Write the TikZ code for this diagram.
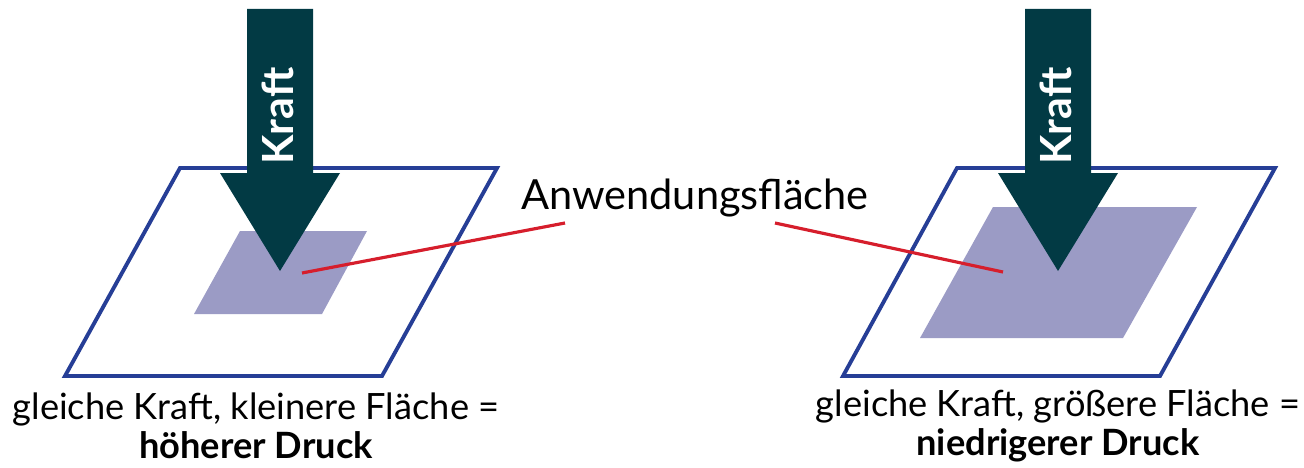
\documentclass[tikz,border=0pt]{standalone}
\usepackage{fontspec}
\setmainfont{Lato}
\usetikzlibrary{calc,positioning}
\definecolor{plateBlue}{RGB}{38,62,150}
\definecolor{areaLilac}{RGB}{155,155,197}
\definecolor{forceTeal}{RGB}{2,58,68}
\definecolor{leaderRed}{RGB}{214,30,44}

\begin{document}
\begin{tikzpicture}[x=0.01cm, y=-0.01cm, every node/.style={font=\fontsize{11.8}{14}\selectfont}]
  \useasboundingbox (0,0) rectangle (1304,467);
  % plates and contact areas
  \coordinate (A1) at (180,168);
  \coordinate (A2) at (497,168);
  \coordinate (A3) at (382,376);
  \coordinate (A4) at (65,376);
  \coordinate (B1) at (957,168);
  \coordinate (B2) at (1275,168);
  \coordinate (B3) at (1160,376);
  \coordinate (B4) at (843,376);
  \fill[areaLilac] (240,231) -- (367,231) -- (322,314) -- (194,314) -- cycle;
  \fill[areaLilac] (993,207) -- (1197,207) -- (1123,338) -- (920,338) -- cycle;
  \draw[plateBlue, line width=1.1pt] (A1)--(A2)--(A3)--(A4)--cycle;
  \draw[plateBlue, line width=1.1pt] (B1)--(B2)--(B3)--(B4)--cycle;
  % force arrows
  \foreach \cx/\side in {280/L,1058/R} {
    \fill[forceTeal] (\cx-33,9) -- (\cx+33,9) -- (\cx+33,173) -- (\cx+60,173)
      -- (\cx,271) -- (\cx-60,173) -- (\cx-33,173) -- cycle;
    \node[rotate=90, text=white, font=\fontsize{12.2}{14}\selectfont\bfseries] (kraft\side) at (\cx-2,116) {Kraft};
  }
  % label with leaders
  \node (label) at (695,198) {Anwendungsfläche};
  \coordinate (spotL) at (302,273);
  \coordinate (spotR) at (1003,272);
  \coordinate (hookL) at (565,223);
  \coordinate (hookR) at (775,223);
  \draw[leaderRed, line width=0.9pt] (spotL) -- (hookL);
  \draw[leaderRed, line width=0.9pt] (hookR) -- (spotR);
  % captions
  \node[align=center, font=\fontsize{10.3}{11.2}\selectfont] (capL) at (256,426) {gleiche Kraft, kleinere Fläche =\\ \textbf{höherer Druck}};
  \node[align=center, font=\fontsize{10.3}{11.2}\selectfont] (capR) at (1058,426) {gleiche Kraft, größere Fläche =\\ \textbf{niedrigerer Druck}};
\end{tikzpicture}
\end{document}
